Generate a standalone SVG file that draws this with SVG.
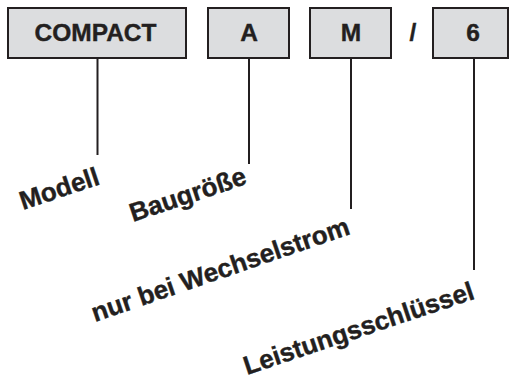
<svg xmlns="http://www.w3.org/2000/svg" width="509" height="380" viewBox="0 0 509 380">
<style>
.box{fill:#dcdddf;stroke:#231f20;stroke-width:2}
.t{font-family:"Liberation Sans",Arial,sans-serif;font-weight:bold;fill:#231f20;stroke:#231f20;stroke-width:0.4}
.bt{font-size:24.5px;text-anchor:middle}
.lb{font-size:26px}
.c{stroke:#231f20;stroke-width:2;fill:none}
</style>
<rect width="509" height="380" fill="#fff"/>
<g id="connectors">
<line class="c" x1="97.5" y1="58" x2="97.5" y2="155"/>
<line class="c" x1="249" y1="58" x2="249" y2="164"/>
<line class="c" x1="351" y1="58" x2="351" y2="209"/>
<line class="c" x1="474" y1="58" x2="474" y2="270"/>
</g>
<g id="compact"><rect class="box" x="8" y="8" width="178" height="50"/><text class="t bt" x="95.5" y="40.5">COMPACT</text></g>
<g id="a"><rect class="box" x="208" y="8" width="81" height="50"/><text class="t bt" x="249" y="40.5">A</text></g>
<g id="m"><rect class="box" x="310" y="8" width="81" height="50"/><text class="t bt" x="351" y="40.5">M</text></g>
<g id="slash"><text class="t bt" x="413" y="40.5">/</text></g>
<g id="six"><rect class="box" x="433" y="8" width="75" height="50"/><text class="t bt" x="473" y="40.5">6</text></g>
<g id="modell"><text class="t lb" transform="translate(23,210) rotate(-18.5)">Modell</text></g>
<g id="baugroesse"><text class="t lb" transform="translate(133,222) rotate(-18.5)">Baugröße</text></g>
<g id="wechselstrom"><text class="t lb" transform="translate(95,322) rotate(-19)">nur bei Wechselstrom</text></g>
<g id="leistung"><text class="t lb" transform="translate(247,375) rotate(-18.5)">Leistungsschlüssel</text></g>
</svg>
